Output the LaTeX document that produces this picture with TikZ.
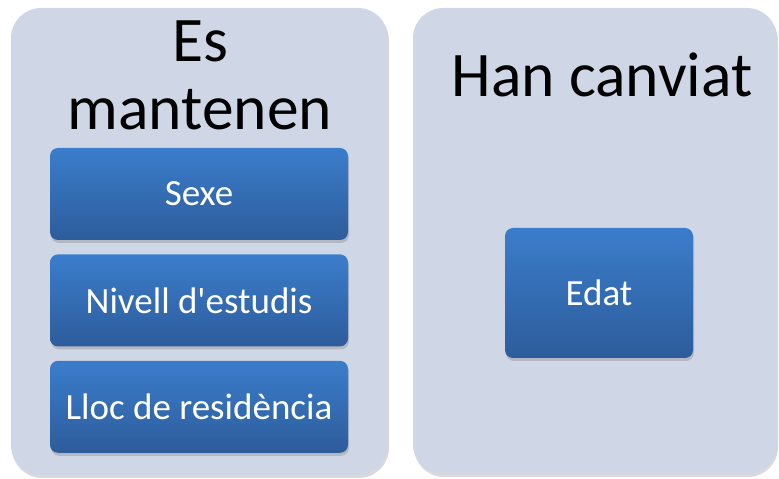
\documentclass[tikz,border=0pt]{standalone}
\usepackage{fontspec}
\setmainfont{Carlito}
\usetikzlibrary{positioning,shadows}

\definecolor{panelfill}{HTML}{CFD7E6}
\definecolor{boxtop}{HTML}{3B7DCB}
\definecolor{boxbottom}{HTML}{2D5C9B}

\tikzset{
  panel/.style={rounded corners=30pt,fill=panelfill,
    drop shadow={opacity=0.3,shadow xshift=1pt,shadow yshift=-3pt}},
  itembox/.style={rectangle,rounded corners=8pt,top color=boxtop,bottom color=boxbottom,
    text=white,font=\fontsize{37}{42}\selectfont,minimum width=298pt,minimum height=92pt,
    drop shadow={opacity=0.35,shadow xshift=1pt,shadow yshift=-3pt}},
  heading/.style={anchor=base,font=\fontsize{63.5}{70}\selectfont}
}

\begin{document}
\begin{tikzpicture}[x=1pt,y=1pt]
            \useasboundingbox (0,0) rectangle (779,479);

            \fill[panel] (11,4) rectangle (388,471);
            \fill[panel] (413,5) rectangle (777,471);

            \node[heading] (es) at (200,417) {Es};
            \node[heading] (mantenen) at (200,349) {mantenen};
            \node[heading] (han) at (602,382) {Han canviat};

            \node[itembox] (sexe) at (199,285) {Sexe};
            \node[itembox,below=14pt of sexe] (nivell) {Nivell d\textquotesingle estudis};
            \node[itembox,below=14pt of nivell] (lloc) {Lloc de residència};

            \node[itembox,minimum width=188pt,minimum height=130pt] (edat) at (599,186) {Edat};

        \end{tikzpicture}
\end{document}
